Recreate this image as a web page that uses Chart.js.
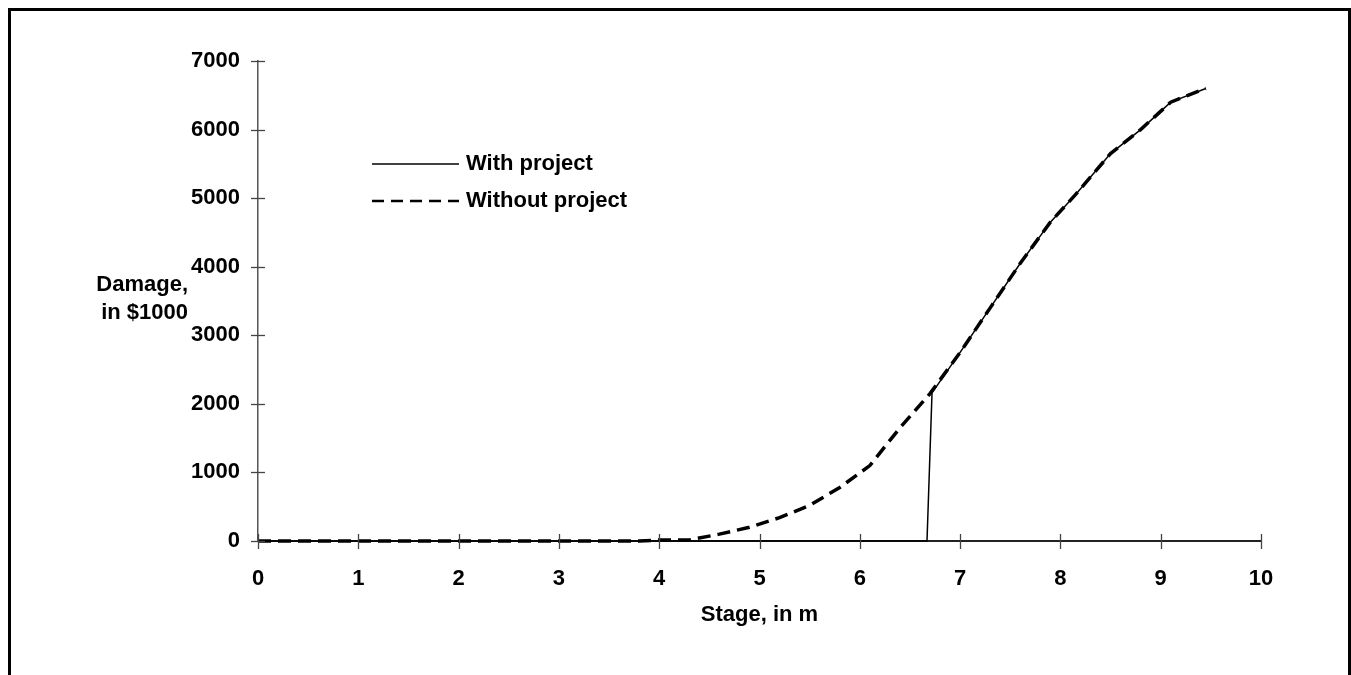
<!DOCTYPE html>
<html>
<head>
<meta charset="utf-8">
<script src="https://cdn.jsdelivr.net/npm/chart.js@4/dist/chart.umd.min.js"></script>
<style>
  html, body { margin: 0; padding: 0; background: #fff; }
  #wrap { position: relative; width: 1351px; height: 675px; overflow: hidden; }
  #frame {
    position: absolute; left: 8px; top: 8px; width: 1337px; height: 700px;
    border: 3px solid #000; border-bottom: none;
  }
  canvas { position: absolute; left: 0; top: 0; }
</style>
</head>
<body>
<div id="wrap">
  <div id="frame"></div>
  <canvas id="chart" width="1351" height="675"></canvas>
</div>
<script>
// stage (m) / damage ($1000)
const stageWithout = [0, 3.8, 4.0, 4.3, 4.6, 4.9, 5.2, 5.5, 5.8, 6.1, 6.4, 6.7, 7.0, 7.3, 7.6, 7.9, 8.15, 8.5, 8.8, 9.1, 9.45];
const damageWithout = [0, 0, 15, 15, 100, 200, 340, 520, 780, 1100, 1650, 2150, 2750, 3400, 4050, 4650, 5050, 5650, 6000, 6400, 6600];

const stageWith = [0, 6.67, 6.72, 7.0, 7.3, 7.6, 7.9, 8.15, 8.5, 8.8, 9.1, 9.45];
const damageWith = [0, 0, 2160, 2750, 3400, 4050, 4650, 5050, 5650, 6000, 6400, 6600];

const xTicks = [0, 1, 2, 3, 4, 5, 6, 7, 8, 9, 10];
const yTicks = [0, 1000, 2000, 3000, 4000, 5000, 6000, 7000];

const seriesLabels = ["With project", "Without project"];
const xTitle = "Stage, in m";
const yTitle = ["Damage,", "in $1000"];

const FAMILY = "'Liberation Sans', Arial, sans-serif";
const FONT = "bold 22px " + FAMILY;

function toPoints(xs, ys) {
  return xs.map((x, i) => ({ x: x, y: ys[i] }));
}

// tick marks that cross the axes, the titles and the legend
const extras = {
  id: "extras",
  afterDraw(chart) {
    const ctx = chart.ctx;
    const xs = chart.scales.x;
    const ys = chart.scales.y;
    const area = chart.chartArea;
    ctx.save();
    ctx.lineWidth = 1.3;
    ctx.strokeStyle = "#444";
    xTicks.forEach((v) => {
      const px = Math.round(xs.getPixelForValue(v)) + 0.5;
      ctx.beginPath();
      ctx.moveTo(px, area.bottom - 7);
      ctx.lineTo(px, area.bottom + 8);
      ctx.stroke();
    });
    yTicks.forEach((v) => {
      const py = Math.round(ys.getPixelForValue(v)) + 0.5;
      ctx.beginPath();
      ctx.moveTo(area.left - 7, py);
      ctx.lineTo(area.left + 7, py);
      ctx.stroke();
    });

    ctx.fillStyle = "#000";
    ctx.font = FONT;
    ctx.textBaseline = "middle";

    // x title
    ctx.textAlign = "center";
    ctx.fillText(xTitle, (area.left + area.right) / 2, 615);

    // y title, two lines right-aligned
    ctx.textAlign = "right";
    ctx.fillText(yTitle[0], 188, 285);
    ctx.fillText(yTitle[1], 188, 313);

    // legend
    const rows = [
      { y: 164, dash: [], width: 1.5 },
      { y: 201, dash: [12, 7], width: 2.5 },
    ];
    rows.forEach((r, i) => {
      ctx.strokeStyle = "#000";
      ctx.lineWidth = r.width;
      ctx.setLineDash(r.dash);
      ctx.beginPath();
      ctx.moveTo(372, r.y);
      ctx.lineTo(459, r.y);
      ctx.stroke();
      ctx.setLineDash([]);
      ctx.textAlign = "left";
      ctx.fillText(seriesLabels[i], 466, r.y);
    });
    ctx.restore();
  },
};

const tickFont = { family: FAMILY, size: 22, weight: "bold" };

new Chart(document.getElementById("chart"), {
  type: "line",
  data: {
    datasets: [
      {
        label: seriesLabels[1],
        data: toPoints(stageWithout, damageWithout),
        borderColor: "#000",
        borderWidth: 3.5,
        borderDash: [13, 7],
        pointRadius: 0,
        tension: 0,
        clip: 4,
      },
      {
        label: seriesLabels[0],
        data: toPoints(stageWith, damageWith),
        borderColor: "#000",
        borderWidth: 1.5,
        pointRadius: 0,
        tension: 0,
        clip: 4,
      },
    ],
  },
  options: {
    responsive: false,
    animation: false,
    events: [],
    layout: { padding: { top: 61, right: 90, left: 0, bottom: 0 } },
    plugins: { legend: { display: false }, tooltip: { enabled: false } },
    scales: {
      x: {
        type: "linear",
        min: 0,
        max: 10,
        afterFit: (s) => { s.height = 134; },
        afterBuildTicks: (s) => { s.ticks = xTicks.map((v) => ({ value: v })); },
        grid: { display: false, drawTicks: false },
        border: { display: true, color: "#222", width: 2 },
        ticks: { color: "#000", padding: 25, font: tickFont, callback: (v) => String(v) },
      },
      y: {
        min: 0,
        max: 7000,
        afterFit: (s) => { s.width = 258; },
        afterBuildTicks: (s) => { s.ticks = yTicks.map((v) => ({ value: v })); },
        grid: { display: false, drawTicks: false },
        border: { display: true, color: "#555", width: 1.5 },
        ticks: { color: "#000", padding: 18, font: tickFont, callback: (v) => String(v) },
      },
    },
  },
  plugins: [extras],
});
</script>
</body>
</html>
